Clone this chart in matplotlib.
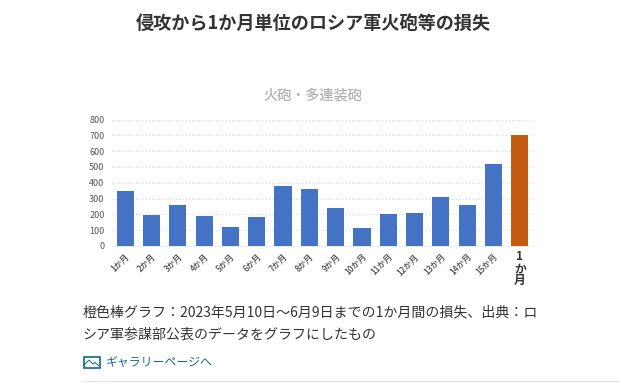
import matplotlib
matplotlib.use("Agg")
import matplotlib.pyplot as plt
from matplotlib.patches import Rectangle
from matplotlib.lines import Line2D

plt.rcParams['font.family'] = ['Noto Sans CJK JP', 'DejaVu Sans']

categories = ['1か月','2か月','3か月','4か月','5か月','6か月','7か月','8か月','9か月','10か月','11か月','12か月','13か月','14か月','15か月','1\nか\n月']
values = [345,197,260,188,120,182,382,360,240,112,204,210,310,258,518,705]
yticks = [0,100,200,300,400,500,600,700,800]
title = '侵攻から1か月単位のロシア軍火砲等の損失'
chart_title = '火砲・多連装砲'
caption1 = '橙色棒グラフ：2023年5月10日～6月9日までの1か月間の損失、出典：ロ'
caption2 = 'シア軍参謀部公表のデータをグラフにしたもの'
link = 'ギャラリーページへ'
BLUE = '#4472c4'
ORANGE = '#c55a11'

W, H = 620, 391
fig = plt.figure(figsize=(W/100, H/100), dpi=100, facecolor='white')
def fx(x): return x/W
def fy(y): return 1-y/H

left, right, top, bottom = 112, 533, 119.5, 246
ax = fig.add_axes([fx(left), fy(bottom), (right-left)/W, (bottom-top)/H])
x = list(range(len(values)))
colors = [BLUE]*15 + [ORANGE]
ax.bar(x, values, width=0.65, color=colors, zorder=3)
ax.set_xlim(-0.5, 15.5)
ax.set_ylim(0, 800)
ax.set_yticks(yticks)
ax.tick_params(axis='y', length=0, labelsize=6.5, labelcolor='#555555', pad=5.4)
ax.yaxis.grid(True, linestyle=(0, (1, 2)), color='#d4d4d4', linewidth=0.8, zorder=0)
ax.set_axisbelow(True)
for s in ax.spines.values():
    s.set_visible(False)
ax.spines['bottom'].set_visible(True)
ax.spines['bottom'].set_color('#e4e4e4')
ax.spines['bottom'].set_linewidth(0.5)
ax.set_xticks(x)
ax.set_xticklabels([])
ax.tick_params(axis='x', length=0)
for i, c in enumerate(categories[:-1]):
    ax.annotate(c, (i, 0), xycoords=('data', 'axes fraction'), xytext=(0, -4.5), textcoords='offset points',
                rotation=45, ha='right', va='top', rotation_mode='anchor', fontsize=6, fontweight='medium', color='#444444')
ax.annotate(categories[-1], (15, 0), xycoords=('data', 'axes fraction'), xytext=(0, -3), textcoords='offset points',
            ha='center', va='top', fontsize=8.5, fontweight='bold', color='#333333', linespacing=0.9)

fig.text(fx(313.5), fy(23), title, ha='center', va='center', fontsize=13.05, fontweight='bold', color='#333333')
fig.text(fx(313), fy(95.5), chart_title, ha='center', va='center', fontsize=10.2, fontweight='medium', color='#b0b0b0')
fig.text(fx(83), fy(312), caption1, ha='left', va='center', fontsize=10.06, color='#333333')
fig.text(fx(83), fy(335), caption2, ha='left', va='center', fontsize=10.06, color='#333333')
fig.text(fx(106), fy(362), link, ha='left', va='center', fontsize=8.6, color='#1a6a8a')

# gallery icon
fig.add_artist(Rectangle((fx(83.5), fy(368)), 16/W, 11.5/H, transform=fig.transFigure, fill=False, edgecolor='#11688c', linewidth=1.2))
fig.add_artist(Line2D([fx(84), fx(89), fx(93), fx(95), fx(99)], [fy(365), fy(360), fy(364), fy(362.5), fy(366)],
                      transform=fig.transFigure, color='#11688c', linewidth=0.7))
fig.add_artist(Line2D([fx(83), fx(620)], [fy(381), fy(381)], transform=fig.transFigure, color='#e4e4e4', linewidth=0.9))

fig.savefig('out.png', dpi=100, facecolor='white')
